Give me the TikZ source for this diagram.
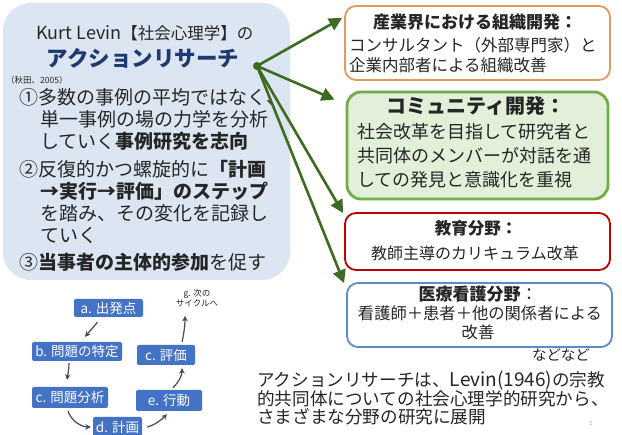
\documentclass[tikz,border=0pt]{standalone}
\usepackage{fontspec}
\setmainfont{Noto Sans CJK JP}
\usetikzlibrary{arrows.meta,calc}
\definecolor{leftfill}{HTML}{DCE6F2}
\definecolor{navy}{HTML}{1F3A70}
\definecolor{orangeb}{HTML}{E59A5C}
\definecolor{greenb}{HTML}{70AD47}
\definecolor{greenf}{HTML}{E2F0D9}
\definecolor{redb}{HTML}{C00000}
\definecolor{blueb}{HTML}{5B8BC9}
\definecolor{agreen}{HTML}{3D6B21}
\definecolor{cycblue}{HTML}{4472C4}
\definecolor{cgray}{HTML}{3F4A5A}
\definecolor{textc}{HTML}{262626}
\newcommand\myfs[1]{\fontsize{#1}{#1}\selectfont}
\begin{document}
\begin{tikzpicture}[x=1pt,y=-1pt,
  txt/.style={inner sep=0pt, anchor=west, text=textc},
  ctxt/.style={inner sep=0pt, anchor=center, text=textc},
  rbox/.style={draw, rounded corners=11pt, line width=1.8pt, fill=white, inner sep=0pt},
  cyc/.style={fill=cycblue, text=white, rounded corners=2pt, inner sep=0pt, font=\myfs{13.5}},
  garrow/.style={draw=agreen, line width=2.6pt, -{Triangle[length=13pt,width=13pt]}},
  carrow/.style={draw=cgray, line width=1.2pt, -{Stealth[length=5.5pt,width=5.5pt]}}]
\useasboundingbox (0,0) rectangle (622,435);
\fill[white] (0,0) rectangle (622,435);

% left box
\node[fill=leftfill, rounded corners=28pt, minimum width=287pt, minimum height=277pt, inner sep=0pt] (lb) at (146.5,141.5) {};
\node[ctxt, font=\myfs{16.5}] (kl) at (145,33) {{\myfs{18}Kurt Levin}【社会心理学】の};
\node[ctxt, font=\myfs{21.5}\bfseries, text=navy] (ar) at (143,58) {アクションリサーチ};
\node[txt, font=\myfs{8.5}] (ref) at (6,80) {（秋田、2005）};
\node[txt, font=\myfs{19}] (p1a) at (19,97) {①多数の事例の平均ではなく、};
\node[txt, font=\myfs{19}] (p1b) at (40,119) {単一事例の場の力学を分析};
\node[txt, font=\myfs{19}] (p1c) at (40,141) {していく\textbf{事例研究を志向}};
\node[txt, font=\myfs{19}] (p2a) at (19,169) {②反復的かつ螺旋的に\textbf{「計画}};
\node[txt, font=\myfs{19}] (p2b) at (40,191) {\textbf{→実行→評価」のステップ}};
\node[txt, font=\myfs{19}] (p2c) at (40,213) {を踏み、その変化を記録し};
\node[txt, font=\myfs{19}] (p2d) at (40,235) {ていく};
\node[txt, font=\myfs{19}] (p3) at (19,262) {③\textbf{当事者の主体的参加}を促す};

% right boxes
\node[rbox, draw=orangeb, minimum width=265pt, minimum height=74pt] (b1) at (477.5,43) {};
\node[ctxt, font=\myfs{17}\bfseries] (b1t) at (475,22) {産業界における組織開発：};
\node[txt, font=\myfs{16.5}] (b1a) at (349,45) {コンサルタント（外部専門家）と};
\node[txt, font=\myfs{16.5}] (b1b) at (349,65) {企業内部者による組織改善};

\node[rbox, draw=greenb, fill=greenf, line width=2.8pt, rounded corners=14pt, minimum width=261pt, minimum height=107pt] (b2) at (477.5,145.5) {};
\node[ctxt, font=\myfs{20}\bfseries] (b2t) at (476,106) {コミュニティ開発：};
\node[txt, font=\myfs{18}] (b2a) at (357,132) {社会改革を目指して研究者と};
\node[txt, font=\myfs{18}] (b2b) at (357,156) {共同体のメンバーが対話を通};
\node[txt, font=\myfs{18}] (b2c) at (357,180) {しての発見と意識化を重視};

\node[rbox, draw=redb, minimum width=265pt, minimum height=57pt] (b3) at (477.5,241.5) {};
\node[ctxt, font=\myfs{16.5}\bfseries] (b3t) at (476,228) {教育分野：};
\node[ctxt, font=\myfs{16}] (b3a) at (475,253) {教師主導のカリキュラム改革};

\node[rbox, draw=blueb, minimum width=265pt, minimum height=64pt] (b4) at (479.5,315) {};
\node[ctxt, font=\myfs{17}] (b4t) at (478,294) {\textbf{医療看護分野}：};
\node[ctxt, font=\myfs{16.3}] (b4a) at (480,313) {看護師＋患者＋他の関係者による};
\node[ctxt, font=\myfs{16.3}] (b4b) at (478,332) {改善};

\node[ctxt, font=\myfs{14.5}] (etc) at (561,355) {などなど};

% bottom text
\node[txt, font=\myfs{17.6}] (bt1) at (257,381) {アクションリサーチは、{\myfs{19}Levin(1946)}の宗教};
\node[txt, font=\myfs{17.6}] (bt2) at (257,399) {的共同体についての社会心理学的研究から、};
\node[txt, font=\myfs{17.6}] (bt3) at (257,417) {さまざまな分野の研究に展開};
\node[ctxt, font=\myfs{6}, text=gray!60] (pg) at (591,423) {2};

% green arrows
\node[circle, fill=agreen, inner sep=0pt, minimum size=8pt] (hub) at (257,66) {};
\draw[garrow] (hub.center) -- ($(b1.west)+(-2,-25)$);
\draw[garrow] (hub.center) -- ($(b2.north west)+(-11,9)$);
\draw[garrow] (hub.center) -- ($(b3.north west)+(-1,1)$);
\draw[garrow] (hub.center) -- ($(b4.north west)+(-2,1)$);

% cycle diagram
\node[cyc, minimum width=69pt, minimum height=18pt] (ca) at (108.5,308) {a. 出発点};
\node[cyc, minimum width=90pt, minimum height=19pt] (cb) at (77,351.5) {b. 問題の特定};
\node[cyc, minimum width=76pt, minimum height=21pt] (cc) at (70,397.5) {c. 問題分析};
\node[cyc, minimum width=49pt, minimum height=20pt] (cd) at (117.5,427) {d. 計画};
\node[cyc, minimum width=66pt, minimum height=21pt] (ce) at (169,400.5) {e. 行動};
\node[cyc, minimum width=58pt, minimum height=20pt] (cf) at (166,355) {c. 評価};
\node[inner sep=0pt, align=center, font=\fontsize{8.5}{10}\selectfont, text=textc] (cg) at (197,298) {g. 次の\\サイクルへ};

\draw[carrow] ($(ca.south)+(-11,5)$) -- ($(cb.north)+(8,-5)$);
\draw[carrow] ($(cb.south)+(-8,2)$) .. controls +(0,6) and +(1,-6) .. ($(cc.north)+(-3,-7)$);
\draw[carrow] ($(cc.south)+(-2,3)$) .. controls +(3,9) and +(-10,0) .. ($(cd.west)+(-2,0)$);
\draw[carrow] ($(cd.east)+(5,0)$) .. controls +(8,-2) and +(-5,5) .. ($(ce.south)+(-2,3)$);
\draw[carrow] ($(ce.north)+(4,-2)$) .. controls +(5,-5) and +(0,8) .. ($(cf.south)+(16,3)$);
\draw[carrow] ($(cf.north)+(16,-3)$) .. controls +(2,-8) and +(0,8) .. ($(cg.south)+(-12,9)$);
\end{tikzpicture}
\end{document}
